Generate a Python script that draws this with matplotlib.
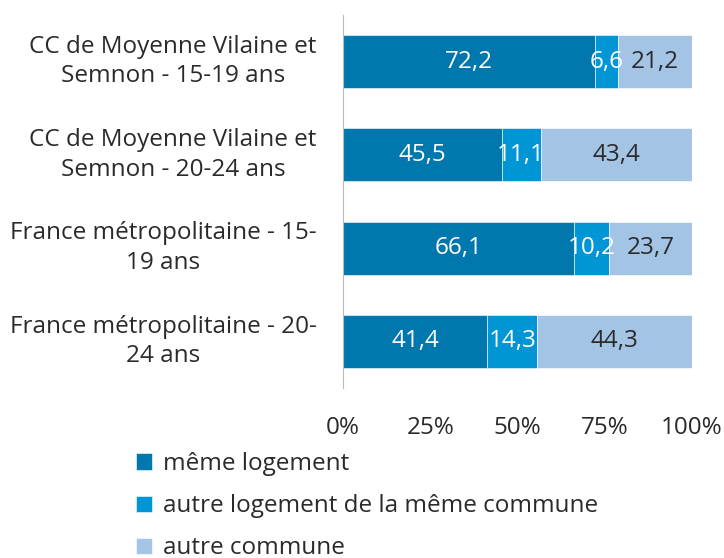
import numpy as np
import matplotlib
matplotlib.use("Agg")
import matplotlib.pyplot as plt

plt.rcParams["font.family"] = ["Open Sans", "DejaVu Sans"]

# categories top to bottom
categories = ["CC de Moyenne Vilaine et\nSemnon - 15-19 ans",
              "CC de Moyenne Vilaine et\nSemnon - 20-24 ans",
              "France métropolitaine - 15-\n19 ans",
              "France métropolitaine - 20-\n24 ans"]
meme_logement = [72.2, 45.5, 66.1, 41.4]
autre_logement = [6.6, 11.1, 10.2, 14.3]
autre_commune = [21.2, 43.4, 23.7, 44.3]
series_names = ["même logement", "autre logement de la même commune", "autre commune"]
colors = ["#0077AD", "#0095D5", "#A3C4E5"]
label_colors = ["white", "white", "#2a2a2a"]
xticks = [0, 25, 50, 75, 100]
xtick_labels = ["0%", "25%", "50%", "75%", "100%"]

TXT = "#2a2a2a"
FS = 17.5

fig = plt.figure(figsize=(7.24, 5.58), dpi=100)
ax = fig.add_axes([343 / 724, 170 / 558, 349 / 724, 373 / 558])

y = np.arange(len(categories))
left = np.zeros(len(categories))
for vals, name, col, lc in zip([meme_logement, autre_logement, autre_commune],
                               series_names, colors, label_colors):
    vals = np.array(vals)
    ax.barh(y, vals, left=left, height=0.57, color=col, label=name,
            edgecolor="white", linewidth=0.4)
    for yi, l, v in zip(y, left, vals):
        ax.text(l + v / 2, yi, f"{v:.1f}".replace(".", ","), ha="center", va="center",
                color=lc, fontsize=FS)
    left += vals

ax.set_xlim(0, 100)
ax.set_ylim(len(categories) - 0.5, -0.5)
ax.set_yticks(y)
ax.set_yticklabels(categories, fontsize=FS, color=TXT, ha="right", va="center",
                   linespacing=1.3)
for lab in ax.get_yticklabels():
    lab.set_multialignment("center")
ax.set_xticks(xticks)
ax.set_xticklabels(xtick_labels, fontsize=FS, color=TXT)
ax.tick_params(axis="x", length=0, pad=20)
ax.tick_params(axis="y", length=0, pad=19)
for s in ["top", "right", "bottom"]:
    ax.spines[s].set_visible(False)
ax.spines["left"].set_color("#BBBBBB")

fig.legend(loc="upper left", bbox_to_anchor=(136 / 724, 1 - 452 / 558), frameon=False,
           fontsize=FS, handlelength=0.65, handleheight=0.65, handletextpad=0.45,
           labelspacing=0.75, labelcolor=TXT, borderaxespad=0, borderpad=0)

fig.savefig("out.png", dpi=100)
